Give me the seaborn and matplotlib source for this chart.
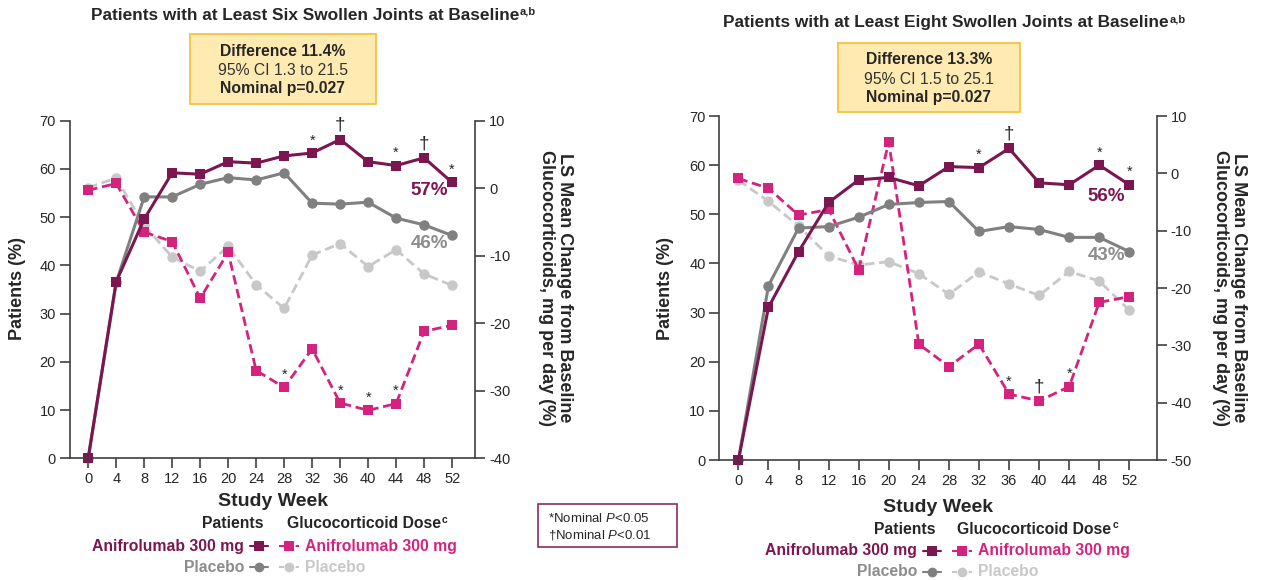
import matplotlib
matplotlib.use("Agg")
import matplotlib.pyplot as plt
from matplotlib.lines import Line2D
from matplotlib.patches import Rectangle
import seaborn as sns

# -----------------------------
# Data
# -----------------------------
weeks = [0, 4, 8, 12, 16, 20, 24, 28, 32, 36, 40, 44, 48, 52]

# at least six swollen joints
six_ani_pts = [0, 36.6, 49.6, 59.2, 58.9, 61.5, 61.2, 62.7, 63.3, 66.1, 61.5, 60.7, 62.3, 57.2]
six_pbo_pts = [0, 36.5, 54.2, 54.2, 56.8, 58.2, 57.7, 59.2, 52.9, 52.7, 53.1, 49.8, 48.4, 46.2]
six_ani_gc = [-0.3, 0.7, -6.5, -7.9, -16.3, -9.5, -27.0, -29.5, -23.8, -31.8, -32.9, -31.9, -21.2, -20.3]
six_pbo_gc = [0.1, 1.5, -5.5, -10.2, -12.3, -8.6, -14.3, -17.8, -9.9, -8.2, -11.6, -9.1, -12.7, -14.4]
six_pts_sig = [(32, "*"), (36, "†"), (44, "*"), (48, "†"), (52, "*")]
six_gc_sig = [(28, "*"), (36, "*"), (40, "*"), (44, "*")]

# at least eight swollen joints
eight_ani_pts = [0, 31.1, 42.4, 52.4, 57.0, 57.5, 55.8, 59.7, 59.5, 63.4, 56.4, 56.0, 60.0, 56.0]
eight_pbo_pts = [0, 35.5, 47.2, 47.5, 49.4, 52.0, 52.4, 52.6, 46.5, 47.5, 46.9, 45.3, 45.3, 42.4]
eight_ani_gc = [-0.9, -2.6, -7.3, -6.3, -16.8, 5.5, -29.8, -33.7, -29.8, -38.5, -39.7, -37.2, -22.5, -21.5]
eight_pbo_gc = [-1.2, -4.9, -9.2, -14.4, -16.0, -15.4, -17.5, -21.1, -17.2, -19.3, -21.3, -17.1, -18.8, -23.9]
eight_pts_sig = [(32, "*"), (36, "†"), (48, "*"), (52, "*")]
eight_gc_sig = [(36, "*"), (40, "†"), (44, "*")]

MAROON = "#7B1650"
PINK = "#D4237E"
DGREY = "#808080"
LGREY = "#C8C8C8"
AXC = "#404040"

sns.set_style("ticks")
plt.rcParams["font.family"] = ["Liberation Sans", "DejaVu Sans"]
plt.rcParams["axes.unicode_minus"] = False
plt.rcParams["mathtext.fontset"] = "custom"
plt.rcParams["mathtext.rm"] = "Liberation Sans"
plt.rcParams["mathtext.bf"] = "Liberation Sans:bold"
plt.rcParams["mathtext.it"] = "Liberation Sans:italic"

W, H = 1266, 580
fig = plt.figure(figsize=(W / 100, H / 100), dpi=100)
renderer = fig.canvas.get_renderer()


def fx(px):
    return px / W


def fy(py):
    return 1 - py / H


def text_sup(x, y, main, sup, size, sup_size, ha="left", **kw):
    # bold text followed by a small raised superscript
    t = fig.text(fx(x), fy(y), main, ha=ha, va="center", fontsize=size, fontweight="bold", **kw)
    x_end = t.get_window_extent(renderer).x1
    fig.text(x_end / W + fx(1), fy(y - 4), sup, ha="left", va="center", fontsize=sup_size,
             fontweight="bold", **kw)


DASH = (0, (3.4, 1.7))


def panel(rect, xlim, gc_lim, ani_pts, pbo_pts, ani_gc, pbo_gc, pts_sig, gc_sig, lab_a, lab_p):
    ax = fig.add_axes(rect)
    ax2 = ax.twinx()
    ax.set_zorder(2)
    ax2.set_zorder(1)
    ax.patch.set_visible(False)

    # glucocorticoid dose (right axis)
    sns.lineplot(x=weeks, y=pbo_gc, ax=ax2, color=LGREY, marker="o", ms=7.5, mec=LGREY, mew=0,
                 lw=2, linestyle=DASH, clip_on=False)
    sns.lineplot(x=weeks, y=ani_gc, ax=ax2, color=PINK, marker="s", ms=7.8, mec=PINK, mew=0,
                 lw=2, linestyle=DASH, clip_on=False)
    # patients (left axis)
    sns.lineplot(x=weeks, y=pbo_pts, ax=ax, color=DGREY, marker="o", ms=7.5, mec=DGREY, mew=0,
                 lw=2.2, clip_on=False)
    sns.lineplot(x=weeks, y=ani_pts, ax=ax, color=MAROON, marker="s", ms=7.8, mec=MAROON, mew=0,
                 lw=2.2, clip_on=False)

    ax.set_xlim(*xlim)
    ax.set_ylim(0, 70)
    ax2.set_ylim(*gc_lim)
    ax.set_xticks(weeks)
    ax.set_yticks(range(0, 80, 10))
    ax2.set_yticks(range(gc_lim[0], gc_lim[1] + 1, 10))
    ax.set_xlabel("")
    ax.set_ylabel("")
    ax2.set_ylabel("")

    for a in (ax, ax2):
        a.tick_params(direction="out", length=7, width=1.2, color=AXC, labelsize=10.5,
                      labelcolor="#262626", pad=3)
        for s in a.spines.values():
            s.set_color(AXC)
            s.set_linewidth(1.2)
    ax.spines["top"].set_visible(False)
    ax.spines["right"].set_visible(False)
    for s in ("top", "left", "bottom"):
        ax2.spines[s].set_visible(False)

    # significance marks
    lookup = dict(zip(weeks, ani_pts))
    for w, sym in pts_sig:
        fs = 10.5 if sym == "*" else 13.5
        ax.annotate(sym, (w, lookup[w]), xytext=(0, 4), textcoords="offset points",
                    ha="center", va="bottom", fontsize=fs, color="#262626")
    lookup = dict(zip(weeks, ani_gc))
    for w, sym in gc_sig:
        fs = 10.5 if sym == "*" else 13.5
        ax2.annotate(sym, (w, lookup[w]), xytext=(0, 4), textcoords="offset points",
                     ha="center", va="bottom", fontsize=fs, color="#262626")

    # end-point labels
    ax.text(51.4, lab_a[0], lab_a[1], ha="right", va="center", fontsize=13.5,
            fontweight="bold", color=MAROON)
    ax.text(51.4, lab_p[0], lab_p[1], ha="right", va="center", fontsize=13.5,
            fontweight="bold", color="#8C8C8C")
    return ax


panel([fx(70), fy(458.3), fx(475.2) - fx(70), (458.3 - 120.7) / H], (-2.6, 55.3), (-40, 10),
      six_ani_pts, six_pbo_pts, six_ani_gc, six_pbo_gc, six_pts_sig, six_gc_sig,
      (55.6, "57%"), (44.6, "46%"))
panel([fx(719.4), fy(460), fx(1156.7) - fx(719.4), (460 - 116) / H], (-2.53, 55.64), (-50, 10),
      eight_ani_pts, eight_pbo_pts, eight_ani_gc, eight_pbo_gc, eight_pts_sig, eight_gc_sig,
      (53.7, "56%"), (41.7, "43%"))

# titles
text_sup(90.7, 16, "Patients with at Least Six Swollen Joints at Baseline", "a,b", 12.4, 8)
text_sup(722.7, 23, "Patients with at Least Eight Swollen Joints at Baseline", "a,b", 12.4, 8)

# difference boxes
for (x0, y0, x1, y1), diff, ci in [((190, 34.3, 375.7, 104), "Difference 11.4%", "95% CI 1.3 to 21.5"),
                                    ((838, 43, 1020, 111.7), "Difference 13.3%", "95% CI 1.5 to 25.1")]:
    fig.add_artist(Rectangle((fx(x0), fy(y1)), fx(x1) - fx(x0), fy(y0) - fy(y1), transform=fig.transFigure,
                             fc="#FFEAB2", ec="#F5C342", lw=1.3))
    cx = fx((x0 + x1) / 2)
    fig.text(cx, fy(y0 + 17), diff, ha="center", va="center", fontsize=11.3, fontweight="bold")
    fig.text(cx, fy(y0 + 36.5), ci, ha="center", va="center", fontsize=11.3, color="#333333")
    fig.text(cx, fy(y0 + 54.5), "Nominal p=0.027", ha="center", va="center", fontsize=11.3,
             fontweight="bold")

# axis labels
for x in (18, 666):
    fig.text(fx(x), fy(288), "Patients (%)", rotation=90, ha="center", va="center",
             fontsize=13, fontweight="bold")
for x1, x2, yc in [(565, 547, 288), (1238, 1220, 288)]:
    fig.text(fx(x1), fy(yc), "LS Mean Change from Baseline", rotation=-90, ha="center", va="center",
             fontsize=13, fontweight="bold")
    fig.text(fx(x2), fy(yc), "Glucocorticoids, mg per day (%)", rotation=-90, ha="center", va="center",
             fontsize=13, fontweight="bold")
for x, y in [(272.5, 501), (938, 507)]:
    fig.text(fx(x), fy(y), "Study Week", ha="center", va="center", fontsize=14, fontweight="bold")


# legends
def legend(pat_x, gc_x, m1, m2, y0, y1, y2):
    fig.text(fx(pat_x), fy(y0), "Patients", ha="center", va="center", fontsize=11.3, fontweight="bold")
    text_sup(gc_x, y0, "Glucocorticoid Dose", "c", 11.3, 7.5)
    rows = [(y1, "s", MAROON, PINK, "Anifrolumab 300 mg", MAROON, PINK),
            (y2, "o", DGREY, LGREY, "Placebo", "#8C8C8C", LGREY)]
    for y, mk, c1, c2, txt, t1, t2 in rows:
        fig.add_artist(Line2D([fx(m1 - 9), fx(m1 + 9)], [fy(y), fy(y)], transform=fig.transFigure,
                              color=c1, lw=1.5))
        fig.add_artist(Line2D([fx(m1)], [fy(y)], transform=fig.transFigure, color=c1, marker=mk,
                              ms=7, mew=0, ls="none"))
        fig.add_artist(Line2D([fx(m2 - 10), fx(m2 + 10)], [fy(y), fy(y)], transform=fig.transFigure,
                              color=c2, lw=1.5, linestyle=(0, (2.5, 1.5))))
        fig.add_artist(Line2D([fx(m2)], [fy(y)], transform=fig.transFigure, color=c2, marker=mk,
                              ms=7, mew=0, ls="none"))
        fig.text(fx(m1 - 15), fy(y), txt, ha="right", va="center", fontsize=11.3, fontweight="bold",
                 color=t1)
        fig.text(fx(m2 + 16), fy(y), txt, ha="left", va="center", fontsize=11.3, fontweight="bold",
                 color=t2)


legend(233, 287, 259, 289, 524, 546, 567)
legend(904.6, 957.3, 932.3, 961.7, 529.5, 550.7, 571.7)

# footnote box
fig.add_artist(Rectangle((fx(538.3), fy(547.3)), fx(676.7) - fx(538.3), fy(504.3) - fy(547.3),
                         transform=fig.transFigure, fc="white", ec="#8B2B5C", lw=1.2))
fig.text(fx(548), fy(518), r"*Nominal $\mathit{P}$<0.05", ha="left", va="center", fontsize=9.5)
fig.text(fx(548), fy(535), r"†Nominal $\mathit{P}$<0.01", ha="left", va="center", fontsize=9.5)

fig.savefig("out.png", dpi=100)
